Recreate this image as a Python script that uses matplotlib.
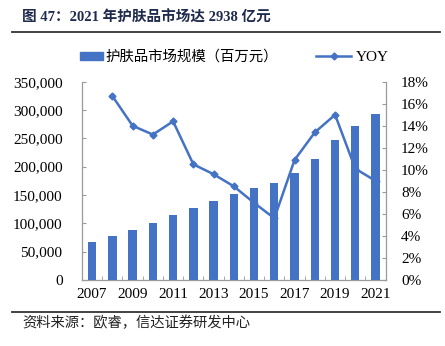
import matplotlib
matplotlib.use("Agg")
import matplotlib.pyplot as plt
from matplotlib.lines import Line2D
from matplotlib.patches import Patch
from matplotlib.ticker import FuncFormatter, MultipleLocator, FixedLocator
import numpy as np

years = [2007, 2008, 2009, 2010, 2011, 2012, 2013, 2014, 2015, 2016, 2017, 2018, 2019, 2020, 2021]
market = [66500, 78200, 88800, 100600, 115000, 127600, 139400, 151200, 161800, 170600,
          188800, 213500, 246500, 271200, 293800]
yoy_years = [2008, 2009, 2010, 2011, 2012, 2013, 2014, 2015, 2016, 2017, 2018, 2019, 2020, 2021]
yoy = [16.7, 14.0, 13.2, 14.4, 10.5, 9.6, 8.5, 7.0, 5.6, 10.9, 13.4, 15.0, 10.1, 9.0]
xlabels = ["2007", "2009", "2011", "2013", "2015", "2017", "2019", "2021"]

title = "图 47：2021 年护肤品市场达 2938 亿元"
source = "资料来源：欧睿，信达证券研发中心"
bar_label = "护肤品市场规模（百万元）"
line_label = "YOY"

BLUE = "#4472C4"
SPINE = "#9a9a9a"
serif = ["Liberation Serif", "Noto Sans CJK SC"]
cjk = ["Noto Sans CJK SC", "Liberation Serif"]
plt.rcParams["font.family"] = serif

fig = plt.figure(figsize=(4.45, 3.46), dpi=100)
ax = fig.add_axes([82/445, 1-280/346, (385.7-82)/445, (280-81.7)/346])
ax2 = ax.twinx()

x = np.arange(len(years))
ax.bar(x, market, width=0.41, color=BLUE, zorder=3)
xi = [years.index(y) for y in yoy_years]
ax2.plot(xi, yoy, color=BLUE, lw=1.8, marker="D", ms=3.5, zorder=2)

ax.set_zorder(ax2.get_zorder() + 1)
ax.patch.set_visible(False)

ax.set_xlim(-0.5, len(years) - 0.5)
ax.set_ylim(0, 350000)
ax2.set_ylim(0, 18)
ax.yaxis.set_major_locator(MultipleLocator(50000))
ax2.yaxis.set_major_locator(MultipleLocator(2))
ax.yaxis.set_major_formatter(FuncFormatter(lambda v, p: f"{int(v):,}"))
ax2.yaxis.set_major_formatter(FuncFormatter(lambda v, p: f"{int(v)}%"))

ax.xaxis.set_major_locator(FixedLocator([years.index(int(s)) for s in xlabels]))
ax.set_xticklabels(xlabels)
ax.xaxis.set_minor_locator(FixedLocator(np.arange(-0.5, len(years), 1.0)))
ax.tick_params(axis="x", which="major", length=0, pad=6, labelsize=11)
ax.tick_params(axis="x", which="minor", length=3, direction="in", color=SPINE)
ax.tick_params(axis="y", length=3, direction="in", color=SPINE, pad=14, labelsize=11)
ax2.tick_params(axis="y", length=3, direction="in", color=SPINE, pad=11, labelsize=11)
ax2.tick_params(axis="x", length=0)

for a in (ax, ax2):
    a.spines["top"].set_visible(False)
    for s in ("left", "right", "bottom"):
        a.spines[s].set_color(SPINE)
        a.spines[s].set_linewidth(0.9)
ax.spines["right"].set_visible(False)
ax2.spines["left"].set_visible(False)
ax2.spines["bottom"].set_visible(False)

# legends
leg1 = fig.legend(handles=[Patch(color=BLUE, label=bar_label)], loc="center left",
                  bbox_to_anchor=(80/445, 1-57/346), frameon=False, handlelength=1.6,
                  handleheight=0.45, handletextpad=0.15, borderpad=0, borderaxespad=0,
                  prop={"family": cjk, "size": 10.4})
leg2 = fig.legend(handles=[Line2D([], [], color=BLUE, lw=1.8, marker="D", ms=3.5, label=line_label)],
                  loc="center left", bbox_to_anchor=(316/445, 1-57/346), frameon=False,
                  handlelength=2.3, handletextpad=0.3, borderpad=0, borderaxespad=0,
                  prop={"family": serif, "size": 11})

fig.text(22/445, 1-18/346, title, fontsize=10.5, fontweight="bold", color="#1f2b4d",
         family=serif, va="center", ha="left")
fig.add_artist(Line2D([12/445, 440/445], [1-32/346, 1-32/346], color="#333333", lw=1.3))
fig.add_artist(Line2D([12/445, 440/445], [1-312/346, 1-312/346], color="#333333", lw=1.3))
fig.text(22/445, 1-323/346, source, fontsize=10.3, color="#222222", family=cjk,
         va="center", ha="left")

fig.savefig("out.png", dpi=100)
